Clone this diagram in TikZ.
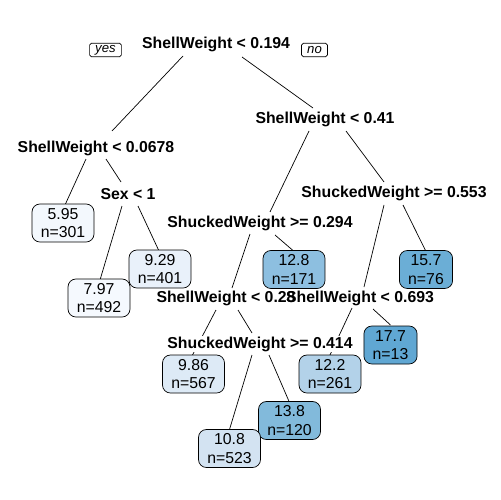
\documentclass[tikz,border=0pt]{standalone}
\usepackage{fontspec}
\setmainfont{Liberation Sans}
\usetikzlibrary{positioning, calc, backgrounds}
\definecolor{c595}{HTML}{F3F8FD}
\definecolor{c797}{HTML}{F5F9FE}
\definecolor{c929}{HTML}{E9F1FA}
\definecolor{c986}{HTML}{DDEAF6}
\definecolor{c108}{HTML}{D3E3F2}
\definecolor{c122}{HTML}{B3D2E9}
\definecolor{c128}{HTML}{8DBFE0}
\definecolor{c138}{HTML}{82BADB}
\definecolor{c157}{HTML}{6BAED6}
\definecolor{c177}{HTML}{60A7D3}
\tikzset{
  split/.style={
    font=\fontsize{9}{11}\selectfont\bfseries,
    fill=white,
    inner sep=0.5pt
  },
  leaf/.style={
    draw,
    rectangle,
    rounded corners=4.5pt,
    minimum height=0.76cm,
    inner xsep=5pt,
    inner ysep=1pt,
    align=center,
    font=\fontsize{9}{10.5}\selectfont
  },
  tag/.style={
    draw,
    rectangle,
    rounded corners=1pt,
    minimum height=0.27cm,
    inner xsep=3.2pt,
    inner ysep=0.5pt,
    font=\fontsize{7.5}{8}\selectfont\itshape
  },
  branch/.style={line width=0.4pt}
}

\begin{document}
\begin{tikzpicture}[x=0.02cm, y=-0.02cm]
  \useasboundingbox (0,0) rectangle (500,500);

  % split labels and leaves
  \node[split] (root) at (216,44) {ShellWeight < 0.194};
  \node[tag] (yes) at (105.5,50) {yes};
  \node[tag] (no) at (314.5,50) {no};
  \node[split] (sw0678) at (96,148) {ShellWeight < 0.0678};
  \node[split] (sw041) at (325,119) {ShellWeight < 0.41};
  \node[split] (sex) at (128,194) {Sex < 1};
  \node[split] (sk0553) at (394,193) {ShuckedWeight >= 0.553};
  \node[split] (sk0294) at (260,223) {ShuckedWeight >= 0.294};
  \node[split] (sw028) at (226,298) {ShellWeight < 0.28};
  \node[split, fill=none] (sw0693) at (360,298) {ShellWeight < 0.693};
  \node[split] (sk0414) at (260,344) {ShuckedWeight >= 0.414};

  \node[leaf, fill=c595] (l595) at (63,223) {5.95\\n=301};
  \node[leaf, fill=c797] (l797) at (99,298) {7.97\\n=492};
  \node[leaf, fill=c929] (l929) at (160,269) {9.29\\n=401};
  \node[leaf, fill=c128] (l128) at (294,269.5) {12.8\\n=171};
  \node[leaf, fill=c157] (l157) at (426,269.5) {15.7\\n=76};
  \node[leaf, fill=c177] (l177) at (390.5,345) {17.7\\n=13};
  \node[leaf, fill=c986] (l986) at (193.5,374) {9.86\\n=567};
  \node[leaf, fill=c122] (l122) at (330,374) {12.2\\n=261};
  \node[leaf, fill=c138] (l138) at (289.5,420.5) {13.8\\n=120};
  \node[leaf, fill=c108] (l108) at (229.5,448.5) {10.8\\n=523};

  % branches, behind the labels
  \begin{scope}[on background layer]
  \draw[branch] ($(root)+(-33,12)$) -- ($(sw0678)+(16,-17)$);
  \draw[branch] ($(root)+(26,13)$) -- ($(sw041)+(-12,-11)$);
  \draw[branch] ($(sw0678)+(-10,11)$) -- ($(l595)+(2,-18)$);
  \draw[branch] ($(sw0678)+(10,11)$) -- ($(sex)+(-7,-12)$);
  \draw[branch] ($(sex)+(-6,12)$) -- ($(l797)+(1,-18)$);
  \draw[branch] ($(sex)+(10,12)$) -- ($(l929)+(-1,-18)$);
  \draw[branch] ($(sw041)+(-16,12)$) -- ($(sk0294)+(10,-11)$);
  \draw[branch] ($(sw041)+(21,12)$) -- ($(sk0553)+(-10,-11)$);
  \draw[branch] ($(sk0294)+(-10,11)$) -- ($(sw028)+(6,-10)$);
  \draw[branch] ($(sk0294)+(15,12)$) -- ($(l128)+(-1,-19)$);
  \draw[branch] ($(sk0553)+(-10,12)$) -- ($(sw0693)+(4,-11)$);
  \draw[branch] ($(sk0553)+(9,12)$) -- ($(l157)+(0,-18)$);
  \draw[branch] ($(sw028)+(-10,12)$) -- ($(l986)+(-1,-19)$);
  \draw[branch] ($(sw028)+(12,12)$) -- ($(sk0414)+(-8,-11)$);
  \draw[branch] ($(sk0414)+(-8,11)$) -- ($(l108)+(0,-19)$);
  \draw[branch] ($(sk0414)+(9,11)$) -- ($(l138)+(0,-18)$);
  \draw[branch] ($(sw0693)+(-8,10)$) -- ($(l122)+(0,-19)$);
  \draw[branch] ($(sw0693)+(13,11)$) -- ($(l177)+(0,-20)$);
  \end{scope}
\end{tikzpicture}
\end{document}
